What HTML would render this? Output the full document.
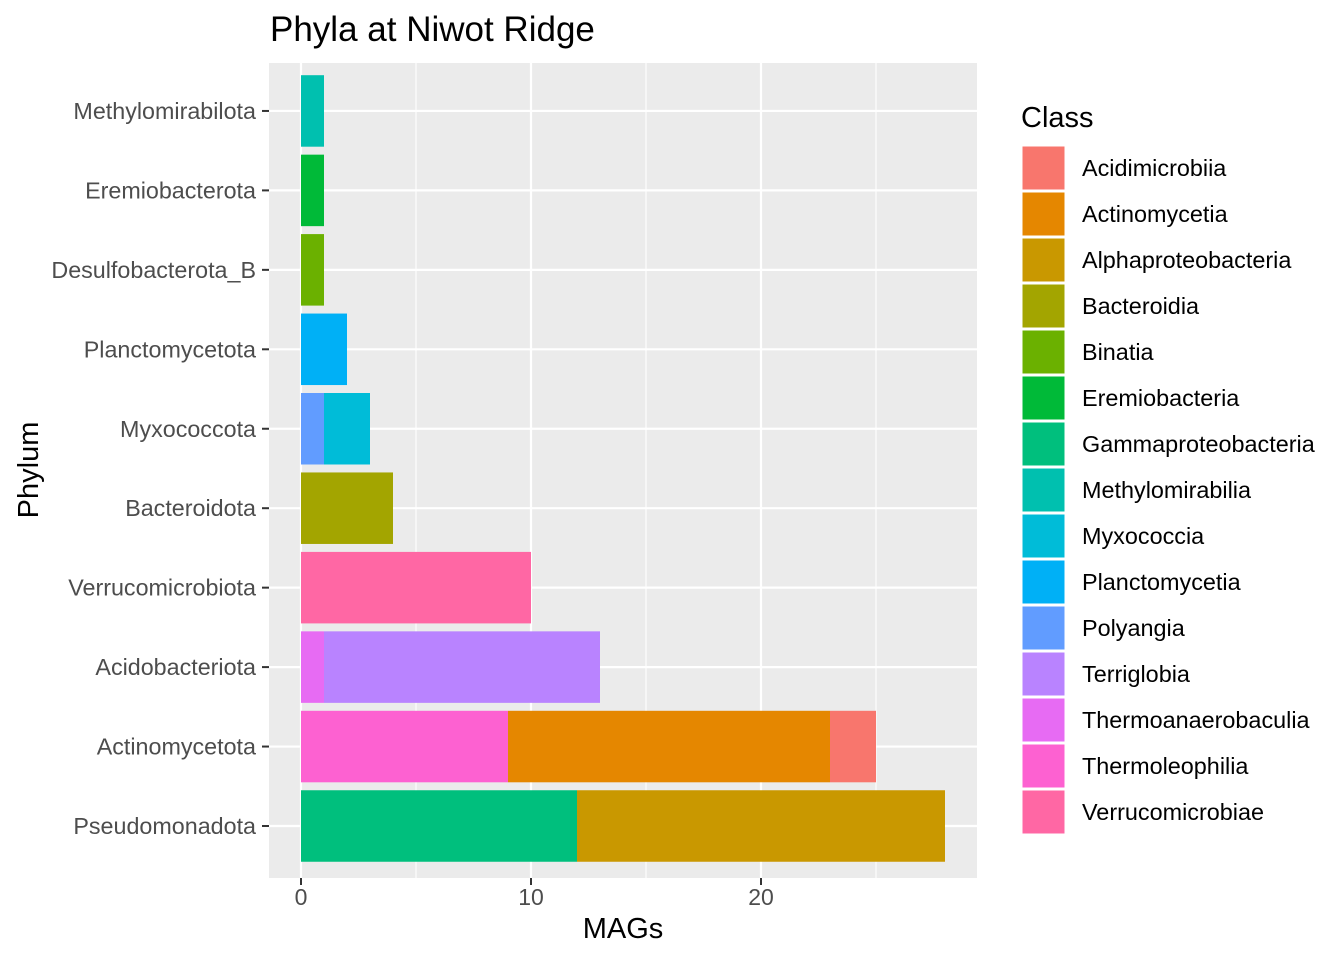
<!DOCTYPE html>
<html><head><meta charset="utf-8"><style>
body{margin:0;background:#fff;font-family:"Liberation Sans",sans-serif}
</style></head><body>
<svg id="c" width="1344" height="960" xmlns="http://www.w3.org/2000/svg" font-family="Liberation Sans, sans-serif">
<rect width="1344" height="960" fill="#fff"/>
<text x="270" y="41" font-size="35" fill="#000">Phyla at Niwot Ridge</text>
<rect x="269" y="63" width="708" height="815" fill="#EBEBEB"/>
<g id="grid"></g><g id="bars"></g><g id="yaxis"></g><g id="xaxis"></g><g id="legend"></g>
<text x="623" y="938" font-size="29" text-anchor="middle" fill="#000">MAGs</text>
<text transform="translate(38,470) rotate(-90)" font-size="29" text-anchor="middle" fill="#000">Phylum</text>
</svg>
<script>
const phyla=["Pseudomonadota","Actinomycetota","Acidobacteriota","Verrucomicrobiota","Bacteroidota","Myxococcota","Planctomycetota","Desulfobacterota_B","Eremiobacterota","Methylomirabilota"];
const classes=["Acidimicrobiia","Actinomycetia","Alphaproteobacteria","Bacteroidia","Binatia","Eremiobacteria","Gammaproteobacteria","Methylomirabilia","Myxococcia","Planctomycetia","Polyangia","Terriglobia","Thermoanaerobaculia","Thermoleophilia","Verrucomicrobiae"];
const colors=["#F8766D","#E58700","#C99800","#A3A500","#6BB100","#00BA38","#00BF7D","#00C0AF","#00BCD8","#00B0F6","#619CFF","#B983FF","#E76BF3","#FD61D1","#FF67A4"];
const segPhylum=["Pseudomonadota","Pseudomonadota","Actinomycetota","Actinomycetota","Actinomycetota","Acidobacteriota","Acidobacteriota","Verrucomicrobiota","Bacteroidota","Myxococcota","Myxococcota","Planctomycetota","Desulfobacterota_B","Eremiobacterota","Methylomirabilota"];
const segClass=["Gammaproteobacteria","Alphaproteobacteria","Thermoleophilia","Actinomycetia","Acidimicrobiia","Thermoanaerobaculia","Terriglobia","Verrucomicrobiae","Bacteroidia","Polyangia","Myxococcia","Planctomycetia","Binatia","Eremiobacteria","Methylomirabilia"];
const segValue=[12,16,9,14,2,1,12,10,4,1,2,2,1,1,1];
const xTicks=[0,10,20];
const NS="http://www.w3.org/2000/svg";
const x=v=>301+v*23;
const y=i=>826-i*79.45;
function mk(parent,tag,attrs){const e=document.createElementNS(NS,tag);for(const k in attrs)e.setAttribute(k,attrs[k]);document.getElementById(parent).appendChild(e);return e;}
[5,15,25].forEach(v=>{const l=mk('grid','line',{x1:x(v),x2:x(v),y1:63,y2:878,stroke:'#fff','stroke-width':1.1});

});
xTicks.forEach(v=>{const l=mk('grid','line',{x1:x(v),x2:x(v),y1:63,y2:878,stroke:'#fff','stroke-width':2.2});


const t=mk('xaxis','line',{x1:x(v),x2:x(v),y1:878,y2:885,stroke:'#333','stroke-width':2});


const tx=mk('xaxis','text',{x:x(v),y:905,'font-size':23,'text-anchor':'middle',fill:'#4D4D4D'});tx.textContent=v;

});
phyla.forEach((p,i)=>{const l=mk('grid','line',{x1:269,x2:977,y1:y(i),y2:y(i),stroke:'#fff','stroke-width':2.2});


const t=mk('yaxis','line',{x1:262,x2:269,y1:y(i),y2:y(i),stroke:'#333','stroke-width':2});


const tx=mk('yaxis','text',{x:256,y:y(i)+8,'font-size':23.3,'text-anchor':'end',fill:'#4D4D4D'});tx.textContent=p;

});
const cum={};
segValue.forEach((v,k)=>{const i=phyla.indexOf(segPhylum[k]);const s=cum[i]||0;cum[i]=s+v;
const r=mk('bars','rect',{x:x(s),y:y(i)-35.75,width:x(s+v)-x(s),height:71.5,fill:colors[classes.indexOf(segClass[k])]});

});
const lt=mk('legend','text',{x:1021,y:127,'font-size':29,fill:'#000'});lt.textContent='Class';


classes.forEach((c,j)=>{const yy=145+j*46;
const r=mk('legend','rect',{x:1022,y:yy+1,width:43,height:44,fill:colors[j],stroke:'#fff','stroke-width':1});


const t=mk('legend','text',{x:1082,y:yy+31,'font-size':23.4,fill:'#000'});t.textContent=c;

});
</script>
</body></html>
